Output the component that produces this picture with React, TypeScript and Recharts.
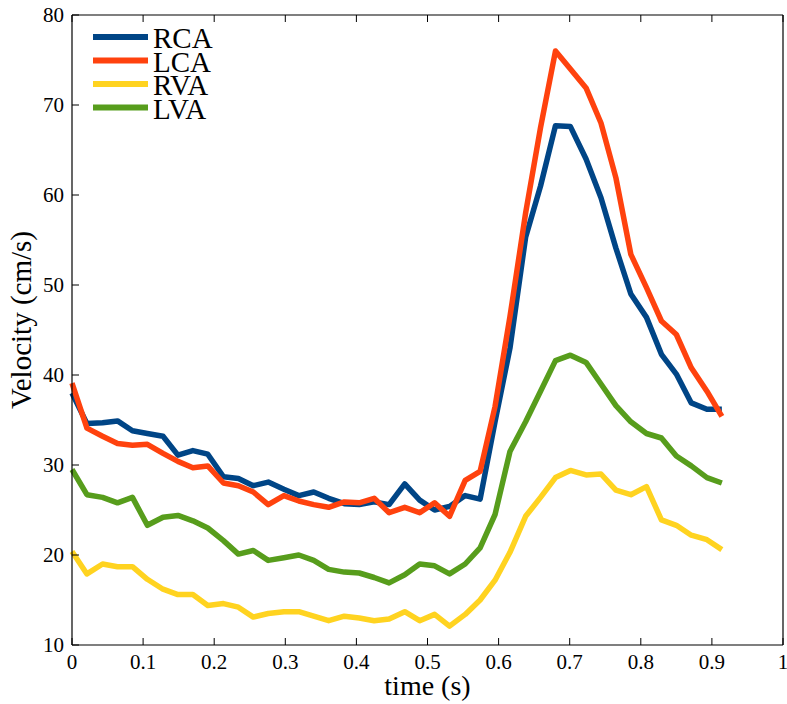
import React from 'react';
import { LineChart, Line, XAxis, YAxis, Legend } from 'recharts';

const times = [0, 0.021, 0.043, 0.064, 0.085, 0.106, 0.128, 0.149, 0.17, 0.191, 0.213, 0.234, 0.255, 0.276, 0.298, 0.319, 0.34, 0.361, 0.383, 0.404, 0.425, 0.446, 0.468, 0.489, 0.51, 0.531, 0.553, 0.574, 0.595, 0.616, 0.638, 0.659, 0.68, 0.701, 0.723, 0.744, 0.765, 0.786, 0.808, 0.829, 0.85, 0.871, 0.893, 0.914];

const rca = [38.0, 34.6, 34.7, 34.9, 33.8, 33.5, 33.2, 31.1, 31.6, 31.2, 28.7, 28.5, 27.7, 28.1, 27.3, 26.6, 27.0, 26.3, 25.7, 25.6, 25.9, 25.6, 27.9, 26.1, 25.0, 25.4, 26.6, 26.2, 34.8, 43.0, 55.3, 61.0, 67.7, 67.6, 64.0, 59.7, 54.1, 49.0, 46.4, 42.3, 40.1, 36.9, 36.2, 36.2];
const lca = [39.1, 34.1, 33.2, 32.4, 32.2, 32.3, 31.3, 30.4, 29.7, 29.9, 28.0, 27.7, 27.0, 25.6, 26.6, 26.0, 25.6, 25.3, 25.9, 25.8, 26.3, 24.7, 25.3, 24.7, 25.8, 24.3, 28.3, 29.3, 36.5, 46.5, 58.0, 67.5, 76.0, 74.0, 71.9, 68.0, 61.9, 53.4, 49.7, 46.0, 44.5, 40.8, 38.2, 35.4];
const rva = [20.4, 17.9, 19.0, 18.7, 18.7, 17.3, 16.2, 15.6, 15.6, 14.4, 14.6, 14.2, 13.1, 13.5, 13.7, 13.7, 13.2, 12.7, 13.2, 13.0, 12.7, 12.9, 13.7, 12.7, 13.4, 12.1, 13.4, 15.0, 17.2, 20.3, 24.3, 26.4, 28.6, 29.4, 28.9, 29.0, 27.2, 26.7, 27.6, 23.9, 23.3, 22.2, 21.7, 20.6];
const lva = [29.5, 26.7, 26.4, 25.8, 26.4, 23.3, 24.2, 24.4, 23.8, 23.0, 21.6, 20.1, 20.5, 19.4, 19.7, 20.0, 19.4, 18.4, 18.1, 18.0, 17.5, 16.9, 17.8, 19.0, 18.8, 17.9, 19.0, 20.8, 24.5, 31.5, 34.8, 38.2, 41.6, 42.2, 41.4, 39.0, 36.6, 34.8, 33.5, 33.0, 31.0, 29.9, 28.6, 28.0];

const seriesNames = ['RCA', 'LCA', 'RVA', 'LVA'];
const seriesColors = ['#004586', '#ff420e', '#ffd320', '#579d1c'];
const xTicks = [0, 0.1, 0.2, 0.3, 0.4, 0.5, 0.6, 0.7, 0.8, 0.9, 1];
const yTicks = [10, 20, 30, 40, 50, 60, 70, 80];

const data = times.map((t, i) => ({ t, RCA: rca[i], LCA: lca[i], RVA: rva[i], LVA: lva[i] }));

const FONT = '"Liberation Serif", "Times New Roman", serif';
const TL = 7;

const BottomTick = (p: any) => (
  <g>
    <line x1={p.x} x2={p.x} y1={p.y} y2={p.y - TL} stroke="#000" strokeWidth={1} />
    <text x={p.x} y={p.y + 24} textAnchor="middle" fontFamily={FONT} fontSize={21} fill="#000">{String(p.payload.value)}</text>
  </g>
);
const TopTick = (p: any) => (
  <line x1={p.x} x2={p.x} y1={p.y} y2={p.y + TL} stroke="#000" strokeWidth={1} />
);
const LeftTick = (p: any) => (
  <g>
    <line x1={p.x} x2={p.x + TL} y1={p.y} y2={p.y} stroke="#000" strokeWidth={1} />
    <text x={p.x - 8} y={p.y + 7} textAnchor="end" fontFamily={FONT} fontSize={21} fill="#000">{String(p.payload.value)}</text>
  </g>
);
const RightTick = (p: any) => (
  <line x1={p.x} x2={p.x - TL} y1={p.y} y2={p.y} stroke="#000" strokeWidth={1} />
);

const LegendBox = () => (
  <svg width={200} height={110} style={{ display: 'block' }}>
    {seriesNames.map((n, i) => (
      <g key={n}>
        <line x1={3} x2={58} y1={17 + i * 23.5} y2={17 + i * 23.5} stroke={seriesColors[i]} strokeWidth={6} />
        <text x={63} y={28 + i * 23.5} fontFamily={FONT} fontSize={29} fill="#000">{n}</text>
      </g>
    ))}
  </svg>
);

export default function App() {
  return (
    <div style={{ position: 'absolute', left: 0, top: 0, width: 787, height: 704, background: '#fff' }}>
      <LineChart width={787} height={704} data={data} margin={{ top: 0, right: 0, bottom: 0, left: 0 }}>
        <XAxis dataKey="t" type="number" domain={[0, 1]} ticks={xTicks} height={59} tickSize={0} tickMargin={0}
          tick={<BottomTick />} axisLine={{ stroke: '#000', strokeWidth: 1.2 }} tickLine={false} interval={0}
          label={{ value: 'time (s)', position: 'insideBottom', offset: 9, fontFamily: FONT, fontSize: 28, fill: '#000' }} />
        <XAxis xAxisId="top" orientation="top" dataKey="t" type="number" domain={[0, 1]} ticks={xTicks} height={15}
          tickSize={0} tickMargin={0} tick={<TopTick />} axisLine={{ stroke: '#000', strokeWidth: 1.2 }} tickLine={false} interval={0} />
        <YAxis type="number" domain={[10, 80]} ticks={yTicks} width={72} tickSize={0} tickMargin={0}
          tick={<LeftTick />} axisLine={{ stroke: '#000', strokeWidth: 1.2 }} tickLine={false} interval={0}
          label={{ value: 'Velocity (cm/s)', angle: -90, position: 'insideLeft', offset: 0, dx: 21, dy: -10, fontFamily: FONT, fontSize: 29, fill: '#000', textAnchor: 'middle' }} />
        <YAxis yAxisId="right" orientation="right" type="number" domain={[10, 80]} ticks={yTicks} width={4}
          tickSize={0} tickMargin={0} tick={<RightTick />} axisLine={{ stroke: '#000', strokeWidth: 1.2 }} tickLine={false} interval={0} />
        {seriesNames.map((n, i) => (
          <Line key={n} type="linear" dataKey={n} stroke={seriesColors[i]} strokeWidth={5.5} dot={false}
            isAnimationActive={false} strokeLinejoin="round" />
        ))}
        <Legend layout="vertical" align="center" verticalAlign="middle" content={<LegendBox />}
          wrapperStyle={{ position: 'absolute', left: 90, top: 20, width: 200, height: 110 }} />
      </LineChart>
    </div>
  );
}
